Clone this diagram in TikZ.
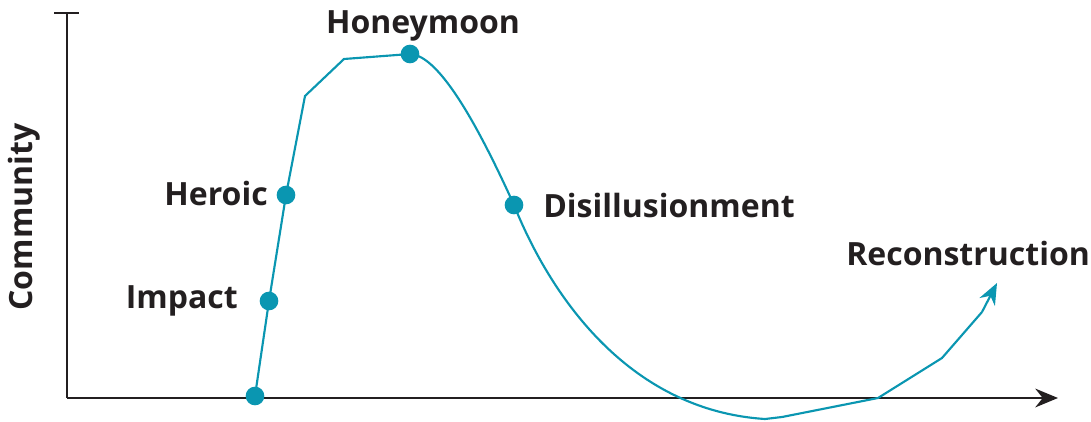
\documentclass[tikz,border=0pt]{standalone}
\usepackage{fontspec}
\setmainfont{Open Sans}
\usetikzlibrary{arrows.meta}
\definecolor{teal}{HTML}{0A96B1}
\definecolor{axis}{HTML}{231F20}
\begin{document}
\begin{tikzpicture}[x=0.75pt,y=-0.75pt,
  dot/.style={circle,fill=teal,inner sep=0pt,minimum size=14pt},
  lbl/.style={font=\fontsize{24}{28}\selectfont\bfseries,text=axis,inner sep=0pt},
  axisline/.style={draw=axis,line width=2.2pt},
  curve/.style={draw=teal,line width=1.6pt}]
\useasboundingbox (0,0) rectangle (1091,421);
% axes
\coordinate (ytop) at (67,13);
\coordinate (orig) at (67,398);
\coordinate (xend) at (1058,398);
\coordinate (capl) at (54,13);
\coordinate (capr) at (79,13);
\draw[axisline] (capl) -- (capr);
\draw[axisline] (ytop) -- (orig);
\draw[axisline,-{Stealth[length=17pt,width=14pt]}] (orig) -- (xend);
% curve points
\coordinate (c1) at (305,96);
\coordinate (c2) at (344,59);
\coordinate (m1) at (765,419);
\coordinate (m2) at (782,417);
\coordinate (r1) at (878,398);
\coordinate (r2) at (942,358);
\coordinate (r3) at (982,312);
\coordinate (tip) at (997,283);
\node[dot] (start) at (255,396) {};
\node[dot] (impact) at (269,301) {};
\node[dot] (heroic) at (286,195) {};
\node[dot] (honey) at (410,54) {};
\node[dot] (disil) at (514,205) {};
\draw[curve] (start.center) -- (impact.center) -- (heroic.center) -- (c1) -- (c2) -- (honey.center)
  .. controls (440,55) and (480,130) .. (disil.center)
  .. controls (548,290) and (625,410) .. (m1)
  -- (m2) -- (r1) -- (r2) -- (r3);
\draw[curve,-{Stealth[length=16pt,width=13pt]}] (r3) -- (tip);
% labels
\node[lbl] (lhoney) at (423,26) {Honeymoon};
\node[lbl,anchor=east] (lheroic) at (268,193) {Heroic};
\node[lbl,anchor=east] (limpact) at (238,301) {Impact};
\node[lbl,anchor=west] (ldisil) at (543,205) {Disillusionment};
\node[lbl,anchor=west] (lrecon) at (846,253) {Reconstruction};
\node[lbl,rotate=90] (lcomm) at (24,217) {Community};
\end{tikzpicture}
\end{document}
